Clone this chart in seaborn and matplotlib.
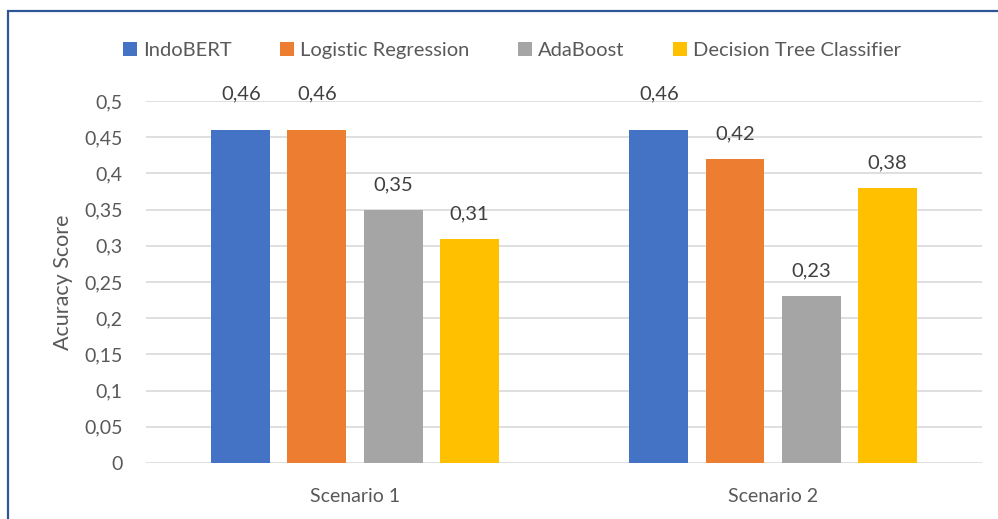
import matplotlib
matplotlib.use("Agg")
import matplotlib.pyplot as plt
import seaborn as sns
import pandas as pd
from matplotlib.patches import Rectangle

scenarios = ["Scenario 1", "Scenario 2"]
models = ["IndoBERT", "Logistic Regression", "AdaBoost", "Decision Tree Classifier"]
scenario1_scores = [0.46, 0.46, 0.35, 0.31]
scenario2_scores = [0.46, 0.42, 0.23, 0.38]
colors = ["#4472C4", "#ED7D31", "#A5A5A5", "#FFC000"]
yticks = [0, 0.05, 0.1, 0.15, 0.2, 0.25, 0.3, 0.35, 0.4, 0.45, 0.5]

df = pd.DataFrame({
    "Scenario": [scenarios[0]] * len(models) + [scenarios[1]] * len(models),
    "Model": models * 2,
    "Score": scenario1_scores + scenario2_scores,
})

sns.set_theme(style="white")
plt.rcParams["font.family"] = ["Lato", "DejaVu Sans"]
text_color = "#595959"

fig = plt.figure(figsize=(9.98, 5.19), dpi=100)
ax = fig.add_axes([0.1463, 0.1079, 0.8377, 0.6975])

sns.barplot(data=df, x="Scenario", y="Score", hue="Model", hue_order=models,
            order=scenarios, palette=colors, width=0.728, gap=0.225,
            saturation=1, errorbar=None, ax=ax, zorder=3, linewidth=0)

ax.set_ylim(0, 0.5)
ax.set_xlim(-0.5, 1.5)
ax.set_yticks(yticks)
ax.set_yticklabels([f"{t:g}".replace(".", ",") for t in yticks])
ax.yaxis.grid(True, color="#D9D9D9", linewidth=1.2, zorder=0)
ax.xaxis.grid(False)
for s in ax.spines.values():
    s.set_visible(False)
ax.tick_params(axis="y", length=0, labelsize=14, colors=text_color, pad=17)
ax.tick_params(axis="x", length=0, labelsize=14, colors=text_color, pad=18)
ax.set_xlabel("")
ax.set_ylabel("Acuracy Score", fontsize=15.5, color=text_color, labelpad=8)

# value labels; labels that would cross the top gridline sit just above it
for container in ax.containers:
    for bar, v in zip(container, container.datavalues):
        pad = 20 if v > 0.45 else 12
        ax.annotate(f"{v:g}".replace(".", ","),
                    (bar.get_x() + bar.get_width() / 2, bar.get_height()),
                    xytext=(0, pad), textcoords="offset points",
                    ha="center", va="bottom", fontsize=14.5, color="#404040",
                    annotation_clip=False)

handles, labels = ax.get_legend_handles_labels()
ax.legend(handles, labels, loc="center", bbox_to_anchor=(0.438, 1.14), ncol=4,
          frameon=False, fontsize=14.5, labelcolor=text_color, handlelength=0.7,
          handleheight=0.7, handletextpad=0.3, columnspacing=2.4)

# chart frame
fig.patches.append(Rectangle((7.5 / 998, -0.05), 1.2, 1 - 10.5 / 519 + 0.05,
                             transform=fig.transFigure, fill=False,
                             edgecolor="#2F5597", linewidth=1.6, zorder=10))

fig.savefig("out.png", dpi=100)
